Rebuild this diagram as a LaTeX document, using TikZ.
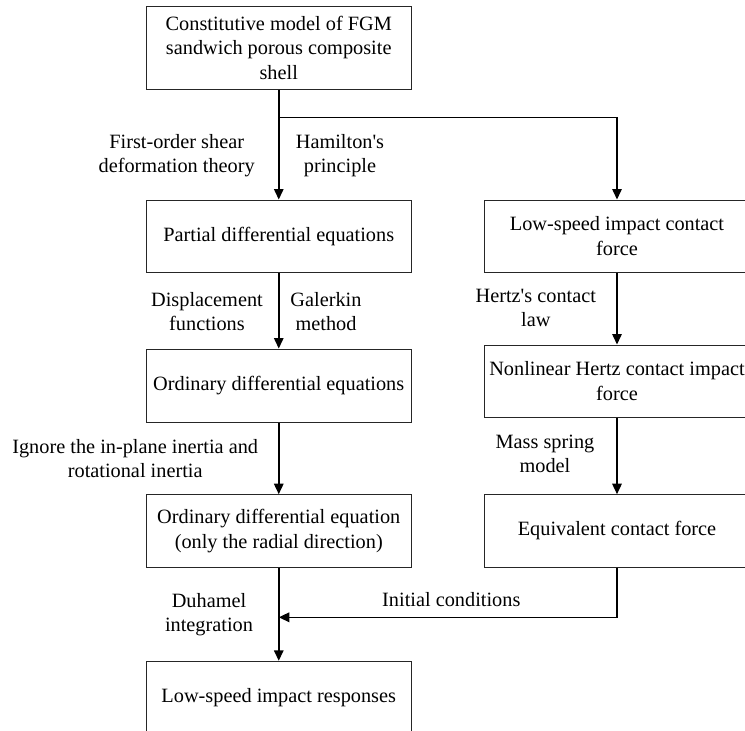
\documentclass[tikz,border=0pt]{standalone}
\usepackage{fontspec}
\newfontfamily\tnr{Liberation Serif}
\usetikzlibrary{arrows.meta,calc}
\begin{document}
\begin{tikzpicture}[x=1pt,y=-1pt,
  every node/.style={font=\tnr\fontsize{20.3}{24.5}\selectfont, inner sep=0pt, align=center},
  box/.style={draw=black!85, line width=1pt, minimum width=265.5pt},
  lbl/.style={font=\tnr\fontsize{20.3}{24}\selectfont},
  arr/.style={line width=1.5pt, -{Triangle[length=10.5pt,width=9.5pt]}},
  ln/.style={line width=1.5pt}]
\useasboundingbox (0,0) rectangle (745,731);
\node[box, minimum height=82.3pt] (b1) at (278.75,47.85) {Constitutive model of FGM\\sandwich porous composite\\shell};
\node[box, minimum height=72.3pt] (pde) at (278.75,236.15) {Partial differential equations};
\node[box, minimum height=73.3pt] (ode) at (278.75,385.65) {Ordinary differential equations};
\node[box, minimum height=72.3pt] (ode2) at (278.75,530.85) {Ordinary differential equation\\(only the radial direction)};
\node[box, minimum height=72pt] (resp) at (278.75,697.3) {Low-speed impact responses};
\node[box, minimum height=72.3pt] (r1) at (617,236.15) {Low-speed impact contact\\force};
\node[box, minimum height=72.3pt] (r2) at (617,381.15) {Nonlinear Hertz contact impact\\force};
\node[box, minimum height=72.3pt] (r3) at (617,530.85) {Equivalent contact force};

\coordinate (br) at (278.75,117.7);
\coordinate (ic) at (278.75,617.3);

\draw[arr] (b1.south) -- (pde.north);
\draw[arr] (br) -| (r1.north);
\draw[arr] (pde.south) -- (ode.north);
\draw[arr] (ode.south) -- (ode2.north);
\draw[arr] (ode2.south) -- (resp.north);
\draw[arr] (r1.south) -- (r2.north);
\draw[arr] (r2.south) -- (r3.north);
\draw[arr] (r3.south) |- (ic);

\node[lbl] (l1) at (176.7,156) {First-order shear\\deformation theory};
\node[lbl] (l2) at (340,156) {Hamilton's\\principle};
\node[lbl] (l3) at (207,311.5) {Displacement\\functions};
\node[lbl] (l4) at (326,311.5) {Galerkin\\method};
\node[lbl] (l5) at (535.8,308) {Hertz's contact\\law};
\node[lbl] (l6) at (135.2,459) {Ignore the in-plane inertia and\\rotational inertia};
\node[lbl] (l7) at (545,454) {Mass spring\\model};
\node[lbl] (l8) at (209,614.5) {Duhamel\\integration};
\node[lbl] (l9) at (451.3,600) {Initial conditions};
\end{tikzpicture}
\end{document}
